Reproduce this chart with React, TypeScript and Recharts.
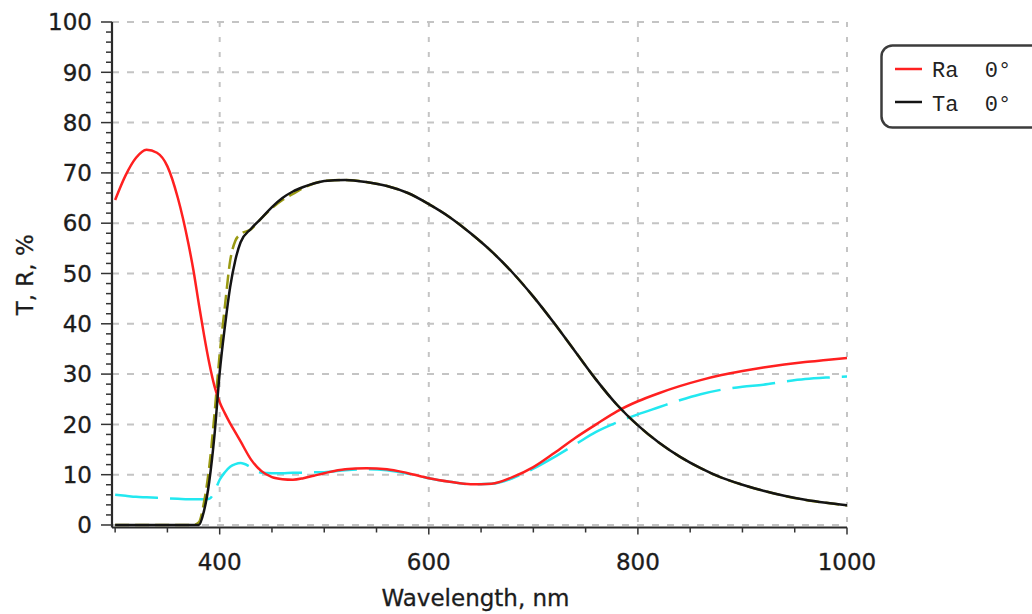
import React from 'react';
import { LineChart, Line, XAxis, YAxis, CartesianGrid, Legend, Label } from 'recharts';

const wavelengths = [300, 310, 320, 330, 340, 350, 360, 370, 375, 380, 385, 390, 395, 400, 405, 410, 415, 420, 430, 440, 450, 460, 470, 480, 490, 500, 520, 540, 560, 580, 600, 620, 640, 660, 680, 700, 720, 740, 760, 780, 800, 820, 840, 860, 880, 900, 920, 940, 960, 980, 1000];

const raMeasured = [64.6, 69.5, 73.0, 74.6, 74.0, 71.3, 65.0, 56.0, 50.5, 44.0, 37.8, 32.2, 27.6, 24.4, 22.2, 20.2, 18.4, 16.6, 13.0, 10.7, 9.5, 9.1, 9.0, 9.3, 9.8, 10.3, 11.1, 11.3, 11.1, 10.3, 9.3, 8.6, 8.1, 8.2, 9.5, 11.5, 14.3, 17.3, 20.0, 22.6, 24.6, 26.2, 27.6, 28.8, 29.8, 30.6, 31.3, 31.9, 32.4, 32.8, 33.2];

const taMeasured = [0, 0, 0, 0, 0, 0, 0, 0, 0, 0, 2.8, 8.6, 17.8, 30.3, 39.5, 47.3, 52.7, 56.2, 58.9, 61.0, 63.2, 65.0, 66.3, 67.2, 67.9, 68.4, 68.6, 68.2, 67.4, 66.0, 63.8, 61.2, 58.0, 54.4, 50.2, 45.4, 40.1, 34.5, 28.9, 23.9, 19.8, 16.4, 13.6, 11.3, 9.4, 8.0, 6.8, 5.8, 5.0, 4.4, 3.9];

const taModel = [0, 0, 0, 0, 0, 0, 0, 0, 0, 0.5, 4.5, 11.5, 22.0, 34.0, 43.5, 52.5, 56.5, 57.8, 58.8, 61.0, 63.0, 64.6, 65.8, 67.0, 67.9, 68.4, 68.6, 68.2, 67.4, 66.0, 63.8, 61.2, 58.0, 54.4, 50.2, 45.4, 40.1, 34.5, 28.9, 23.9, 19.8, 16.4, 13.6, 11.3, 9.4, 8.0, 6.8, 5.8, 5.0, 4.4, 3.9];

const raModel = [6.0, 5.8, 5.6, 5.5, 5.4, 5.3, 5.2, 5.1, 5.1, 5.1, 5.1, 5.2, 6.6, 9.0, 10.5, 11.6, 12.1, 12.3, 11.5, 10.4, 10.3, 10.3, 10.4, 10.4, 10.5, 10.5, 10.9, 11.1, 10.9, 10.2, 9.3, 8.6, 8.1, 8.2, 9.3, 11.2, 13.5, 16.0, 18.5, 20.4, 22.0, 23.4, 24.8, 26.0, 26.9, 27.5, 27.9, 28.5, 29.0, 29.3, 29.5];

const xTicks = [300, 350, 400, 450, 500, 550, 600, 650, 700, 750, 800, 850, 900, 950, 1000];
const xLabelTicks = [400, 600, 800, 1000];
const yTicks = [0, 2, 4, 6, 8, 10, 12, 14, 16, 18, 20, 22, 24, 26, 28, 30, 32, 34, 36, 38, 40, 42, 44, 46, 48, 50, 52, 54, 56, 58, 60, 62, 64, 66, 68, 70, 72, 74, 76, 78, 80, 82, 84, 86, 88, 90, 92, 94, 96, 98, 100];
const yLabelTicks = [0, 10, 20, 30, 40, 50, 60, 70, 80, 90, 100];
const gridXValues = [400, 600, 800, 1000];

const legendItems = [
  { label: 'Ra  0°', color: '#ff2020' },
  { label: 'Ta  0°', color: '#141414' },
];

const xAxisTitle = 'Wavelength, nm';
const yAxisTitle = 'T, R, %';

const data = wavelengths.map((w, i) => ({
  w,
  ra: raMeasured[i],
  ta: taMeasured[i],
  taM: taModel[i],
  raM: raModel[i],
}));

const FONT = '"DejaVu Sans", Verdana, sans-serif';
const TEXT = '#1c1c1c';

const XTick = (props: any) => {
  const { x, y, payload } = props;
  const major = xLabelTicks.includes(payload.value);
  return (
    <g>
      <line x1={x} x2={x} y1={y} y2={y + (major ? 7 : 5)} stroke="#333" strokeWidth={1.5} />
      {major && (
        <text x={x} y={y + 42} textAnchor="middle" fontFamily={FONT} fontSize={23} fill={TEXT} stroke={TEXT} strokeWidth={0.35}>
          {payload.value}
        </text>
      )}
    </g>
  );
};

const YTick = (props: any) => {
  const { x, y, payload } = props;
  const major = yLabelTicks.includes(payload.value);
  return (
    <g>
      <line x1={x - (major ? 11 : 6)} x2={x} y1={y} y2={y} stroke="#333" strokeWidth={1.5} />
      {major && (
        <text x={x - 20} y={y} dy="0.36em" textAnchor="end" fontFamily={FONT} fontSize={23} fill={TEXT} stroke={TEXT} strokeWidth={0.35}>
          {payload.value}
        </text>
      )}
    </g>
  );
};

const LegendBox = () => (
  <svg width={170} height={86} style={{ display: 'block' }}>
    <rect x={1.5} y={1.5} width={180} height={82} rx={11} ry={11} fill="#fff" stroke="#3c3c3c" strokeWidth={2.5} />
    {legendItems.map((it, i) => (
      <g key={it.label}>
        <line x1={15} x2={42} y1={25 + i * 33} y2={25 + i * 33} stroke={it.color} strokeWidth={2.5} />
        <text
          x={52}
          y={33 + i * 34}
          fontFamily='"Liberation Mono", "Courier New", monospace'
          fontSize={22}
          fill="#222"
          style={{ whiteSpace: 'pre' }}
          xmlSpace="preserve"
        >
          {it.label}
        </text>
      </g>
    ))}
  </svg>
);

export default function App() {
  return (
    <div style={{ position: 'absolute', left: 0, top: 0, width: 1032, height: 614, overflow: 'hidden', background: '#fff' }}>
      <LineChart
        width={1032}
        height={614}
        data={data}
        margin={{ top: 22, right: 185, bottom: 0, left: 0 }}
      >
        <CartesianGrid
          horizontal={true}
          vertical={false}
          horizontalValues={yLabelTicks}
          stroke="#c4c4c4"
          strokeWidth={2}
          strokeDasharray="7 8"
        />
        <CartesianGrid
          horizontal={false}
          vertical={true}
          verticalValues={gridXValues}
          stroke="#c4c4c4"
          strokeWidth={2}
          strokeDasharray="5 10"
        />
        <XAxis
          dataKey="w"
          type="number"
          domain={[297, 1000]}
          ticks={xTicks}
          interval={0}
          height={86.5}
          tickSize={0}
          tickMargin={0}
          tickLine={false}
          tick={<XTick />}
          axisLine={{ stroke: '#2a2a2a', strokeWidth: 2.2 }}
          allowDataOverflow
        >
          <Label
            content={(p: any) => {
              const vb = p.viewBox || {};
              return (
                <text
                  x={vb.x + vb.width / 2 - 4}
                  y={vb.y + 78}
                  textAnchor="middle"
                  fontFamily={FONT}
                  fontSize={23}
                  fill={TEXT}
                  stroke={TEXT}
                  strokeWidth={0.3}
                >
                  {xAxisTitle}
                </text>
              );
            }}
          />
        </XAxis>
        <YAxis
          type="number"
          domain={[-0.5, 100]}
          ticks={yTicks}
          interval={0}
          width={112}
          tickSize={0}
          tickMargin={0}
          tickLine={false}
          tick={<YTick />}
          axisLine={{ stroke: '#2a2a2a', strokeWidth: 2.2 }}
          allowDataOverflow
        >
          <Label
            content={(p: any) => {
              const vb = p.viewBox || {};
              const cy = vb.y + vb.height / 2;
              return (
                <text
                  x={33}
                  y={cy}
                  transform={`rotate(-90, 33, ${cy})`}
                  textAnchor="middle"
                  fontFamily={FONT}
                  fontSize={23}
                  fill={TEXT}
                  stroke={TEXT}
                  strokeWidth={0.3}
                >
                  {yAxisTitle}
                </text>
              );
            }}
          />
        </YAxis>
        <Legend
          layout="vertical"
          align="center"
          verticalAlign="middle"
          wrapperStyle={{ left: 880, top: 44, width: 170, height: 86 }}
          content={() => <LegendBox />}
        />
        <Line
          dataKey="raM"
          type="monotone"
          stroke="#22e8f0"
          strokeWidth={2.5}
          strokeDasharray="43 12"
          dot={false}
          isAnimationActive={false}
          legendType="none"
        />
        <Line
          dataKey="taM"
          type="monotone"
          stroke="#9a9a12"
          strokeWidth={2.5}
          strokeDasharray="14 6"
          dot={false}
          isAnimationActive={false}
          legendType="none"
        />
        <Line
          dataKey="ra"
          type="monotone"
          stroke="#ff2020"
          strokeWidth={2.5}
          dot={false}
          isAnimationActive={false}
        />
        <Line
          dataKey="ta"
          type="monotone"
          stroke="#141414"
          strokeWidth={2.5}
          dot={false}
          isAnimationActive={false}
        />
      </LineChart>
    </div>
  );
}
